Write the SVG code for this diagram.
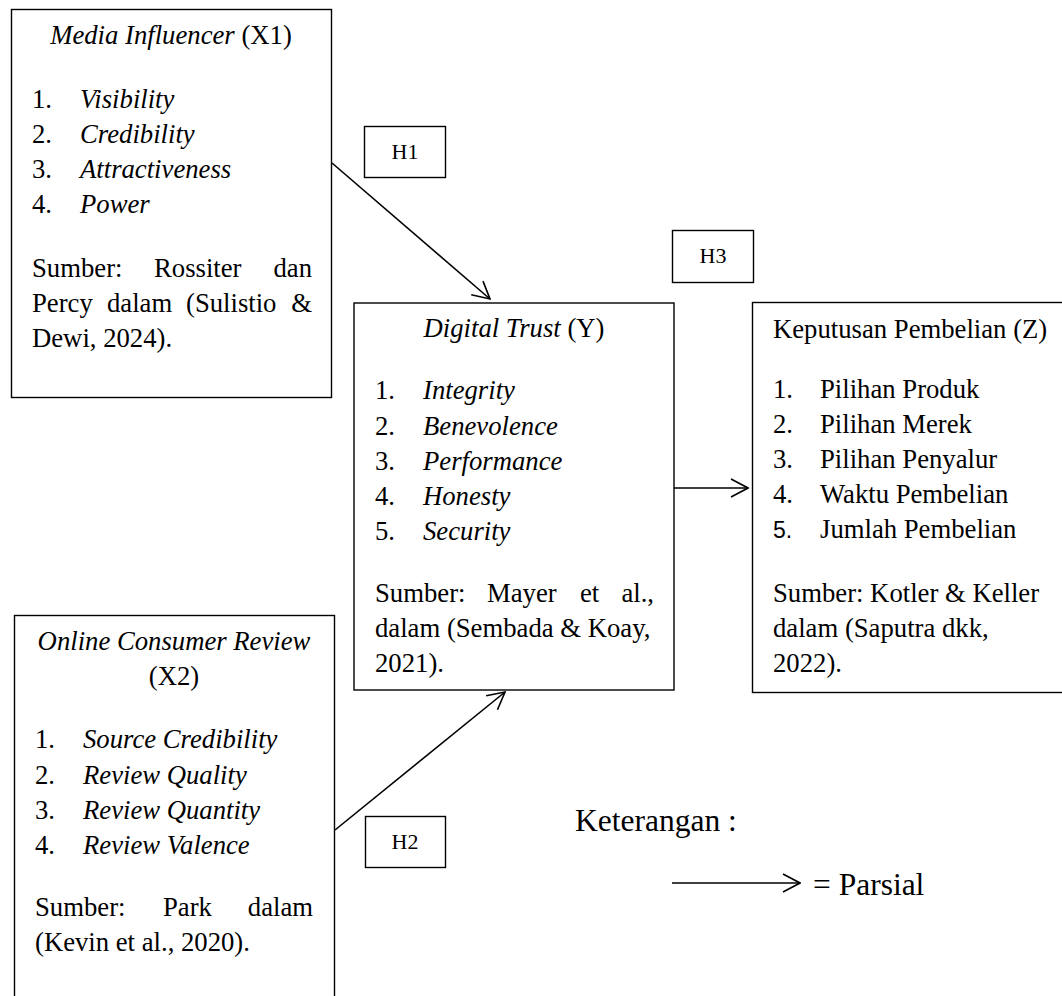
<svg xmlns="http://www.w3.org/2000/svg" width="1062" height="996" viewBox="0 0 1062 996">
<style>
text{font-family:"Liberation Serif","Times New Roman",serif;font-size:26.7px;fill:#000}
.i{font-style:italic}
.box{fill:#fff;stroke:#000;stroke-width:1.4}
.h{font-size:22px}
.c{text-anchor:middle}
.e{text-anchor:end}
.con{stroke:#000;stroke-width:1.6;fill:none}
.leg{font-size:31.5px}
.sans{font-family:"Liberation Sans",Arial,sans-serif;font-size:23px}
</style>
<defs>
<marker id="arr" viewBox="0 0 20 20" refX="19" refY="10" markerWidth="20" markerHeight="20" markerUnits="userSpaceOnUse" orient="auto">
<path d="M2,1 L19,10 L2,19" fill="none" stroke="#000" stroke-width="1.6"/>
</marker>
</defs>
<rect width="1062" height="996" fill="#fff"/>
<g id="x1">
<rect class="box" x="11.5" y="9.5" width="320" height="388"/>
<text x="171" y="44" class="c"><tspan class="i">Media Influencer</tspan> (X1)</text>
<text x="32" y="108">1.</text><text x="80" y="108" class="i">Visibility</text>
<text x="32" y="143">2.</text><text x="80" y="143" class="i">Credibility</text>
<text x="32" y="178">3.</text><text x="80" y="178" class="i">Attractiveness</text>
<text x="32" y="213">4.</text><text x="80" y="213" class="i">Power</text>
<text x="32" y="277">Sumber:</text><text x="154" y="277">Rossiter</text><text x="312" y="277" class="e">dan</text>
<text x="32" y="312">Percy</text><text x="107" y="312">dalam</text><text x="186" y="312">(Sulistio</text><text x="312" y="312" class="e">&amp;</text>
<text x="32" y="347">Dewi, 2024).</text>
</g>
<g id="y">
<rect class="box" x="354" y="303" width="320" height="387"/>
<text x="514" y="337" class="c"><tspan class="i">Digital Trust</tspan> (Y)</text>
<text x="375" y="399">1.</text><text x="423" y="399" class="i">Integrity</text>
<text x="375" y="435">2.</text><text x="423" y="435" class="i">Benevolence</text>
<text x="375" y="470">3.</text><text x="423" y="470" class="i">Performance</text>
<text x="375" y="505">4.</text><text x="423" y="505" class="i">Honesty</text>
<text x="375" y="540">5.</text><text x="423" y="540" class="i">Security</text>
<text x="375" y="602">Sumber:</text><text x="487" y="602">Mayer</text><text x="580" y="602">et</text><text x="654" y="602" class="e">al.,</text>
<text x="375" y="637">dalam (Sembada &amp; Koay,</text>
<text x="375" y="672">2021).</text>
</g>
<g id="z">
<rect class="box" x="752.5" y="302.5" width="312" height="390"/>
<text x="773" y="338">Keputusan Pembelian (Z)</text>
<text x="773" y="398">1.</text><text x="820" y="398">Pilihan Produk</text>
<text x="773" y="433">2.</text><text x="820" y="433">Pilihan Merek</text>
<text x="773" y="468">3.</text><text x="820" y="468">Pilihan Penyalur</text>
<text x="773" y="503">4.</text><text x="820" y="503">Waktu Pembelian</text>
<text x="773" y="538" class="sans">5.</text><text x="820" y="538">Jumlah Pembelian</text>
<text x="773" y="602">Sumber: Kotler &amp; Keller</text>
<text x="773" y="637">dalam (Saputra dkk,</text>
<text x="773" y="672">2022).</text>
</g>
<g id="x2">
<rect class="box" x="14.5" y="615.5" width="320" height="400"/>
<text x="174" y="650" class="c i">Online Consumer Review</text>
<text x="174" y="685" class="c">(X2)</text>
<text x="35" y="748">1.</text><text x="83" y="748" class="i">Source Credibility</text>
<text x="35" y="784">2.</text><text x="83" y="784" class="i">Review Quality</text>
<text x="35" y="819">3.</text><text x="83" y="819" class="i">Review Quantity</text>
<text x="35" y="854">4.</text><text x="83" y="854" class="i">Review Valence</text>
<text x="35" y="916">Sumber:</text><text x="163" y="916">Park</text><text x="313" y="916" class="e">dalam</text>
<text x="35" y="951">(Kevin et al., 2020).</text>
</g>
<g id="h1">
<rect class="box" x="364.5" y="126.5" width="81" height="51"/>
<text x="405" y="159" class="c h">H1</text>
</g>
<g id="h3">
<rect class="box" x="672.5" y="230.5" width="81" height="52"/>
<text x="713" y="263" class="c h">H3</text>
</g>
<g id="h2">
<rect class="box" x="365.5" y="816.5" width="80" height="51"/>
<text x="405" y="849" class="c h">H2</text>
</g>
<g id="connectors">
<line class="con" x1="332" y1="163" x2="490" y2="299" marker-end="url(#arr)"/>
<line class="con" x1="335" y1="830" x2="505" y2="692" marker-end="url(#arr)"/>
<line class="con" x1="674" y1="488" x2="748" y2="488" marker-end="url(#arr)"/>
</g>
<g id="legend">
<text x="575" y="831" class="leg">Keterangan :</text>
<line class="con" x1="672" y1="883" x2="800" y2="883" marker-end="url(#arr)" stroke="#333"/>
<text x="813" y="895" class="leg">= Parsial</text>
</g>
</svg>
